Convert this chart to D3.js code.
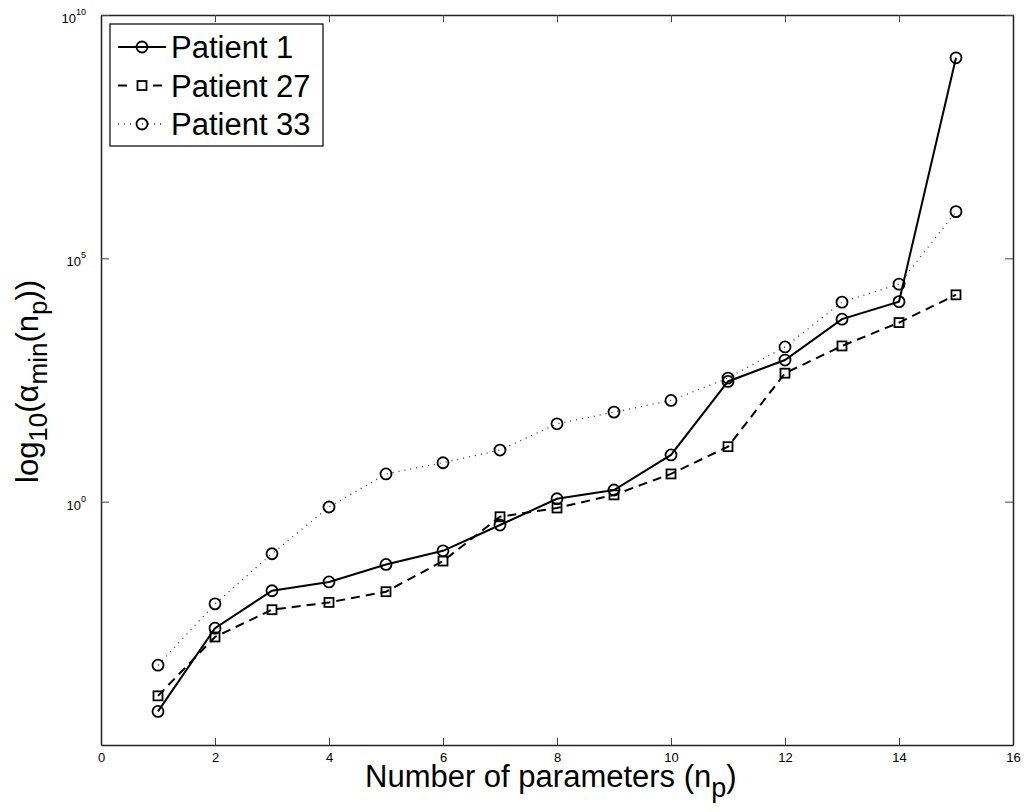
<!DOCTYPE html>
<html><head><meta charset="utf-8">
<script src="https://cdn.jsdelivr.net/npm/d3@7"></script>
<style>body{margin:0;background:#fff}svg{display:block}text{font-family:"Liberation Sans",Arial,sans-serif}</style>
</head><body><svg id="c" width="1026" height="812"></svg>
<script>
const xs = [1,2,3,4,5,6,7,8,9,10,11,12,13,14,15];
// log10 values
const patient1 = [-4.31,-2.60,-1.83,-1.65,-1.29,-1.01,-0.48,0.06,0.24,0.96,2.47,2.91,3.75,4.11,9.12];
const patient27 = [-3.99,-2.78,-2.22,-2.07,-1.85,-1.22,-0.31,-0.13,0.14,0.57,1.13,2.64,3.20,3.68,4.25];
const patient33 = [-3.36,-2.10,-1.07,-0.11,0.57,0.80,1.06,1.60,1.84,2.08,2.54,3.18,4.10,4.47,5.96];
const xTicks = [0,2,4,6,8,10,12,14,16];
const yTickExps = [0,5,10];
const seriesNames = ["Patient 1","Patient 27","Patient 33"];

const series = [
 {name:seriesNames[0], vals:patient1, dash:null, marker:"circle"},
 {name:seriesNames[1], vals:patient27, dash:"9,6", marker:"square"},
 {name:seriesNames[2], vals:patient33, dash:"1,5", marker:"circle"}
];

const L=101,R=1013,T=15,B=745;
const svg=d3.select("#c");
const x=d3.scaleLinear().domain([0,16]).range([L,R]);
const y=d3.scaleLog().domain([1e-5,1e10]).range([B,T]);

const g=svg.append("g");
function yAxisLabels(){
  yTickExps.forEach(e=>{
    const t=g.append("text").attr("x",L-15).attr("y",y(Math.pow(10,e))+8).attr("text-anchor","end").attr("font-size",13);
    t.append("tspan").text("10");
    t.append("tspan").attr("dy",-8).attr("font-size",9).text(e);
  });
}
const axB=d3.axisBottom(x).tickValues(xTicks).tickSizeInner(-7).tickSizeOuter(0).tickPadding(8);
const axT=d3.axisTop(x).tickValues(xTicks).tickSizeInner(-7).tickSizeOuter(0).tickFormat("");
const axL=d3.axisLeft(y).tickValues(yTickExps.map(e=>Math.pow(10,e))).tickSizeInner(-8).tickSizeOuter(0).tickFormat("");
const axR=d3.axisRight(y).tickValues(yTickExps.map(e=>Math.pow(10,e))).tickSizeInner(-8).tickSizeOuter(0).tickFormat("");
const gb=g.append("g").attr("transform",`translate(0,${B})`).call(axB);
const gt=g.append("g").attr("transform",`translate(0,${T})`).call(axT);
const gl=g.append("g").attr("transform",`translate(${L},0)`).call(axL);
const gr=g.append("g").attr("transform",`translate(${R},0)`).call(axR);
[gb,gt,gl,gr].forEach(a=>{a.selectAll("path").attr("stroke","#222").attr("stroke-width",1.5);a.selectAll("line").attr("stroke","#444").attr("stroke-width",1);a.selectAll("text").attr("font-size",13).attr("fill","#000").attr("font-family","Liberation Sans, Arial, sans-serif");});
yAxisLabels();

const line=d3.line().x((d,i)=>x(xs[i])).y(d=>y(Math.pow(10,d)));
series.forEach(s=>{
  svg.append("path").datum(s.vals).attr("d",line).attr("fill","none")
    .attr("stroke",s.dash==="1,5"?"#333":"#000").attr("stroke-width",s.dash==="1,5"?1.3:2)
    .attr("stroke-dasharray",s.dash);
  const mg=svg.append("g");
  s.vals.forEach((v,i)=>drawMarker(mg,s.marker,x(xs[i]),y(Math.pow(10,v))));
});
function drawMarker(p,m,cx,cy){
  if(m==="circle") p.append("circle").attr("cx",cx).attr("cy",cy).attr("r",5.5).attr("fill","none").attr("stroke","#000").attr("stroke-width",1.8);
  else p.append("rect").attr("x",cx-4.5).attr("y",cy-4.5).attr("width",9).attr("height",9).attr("fill","none").attr("stroke","#000").attr("stroke-width",1.8);
}

// legend
const lg=svg.append("g");
lg.append("rect").attr("x",110).attr("y",24).attr("width",213).attr("height",122).attr("fill","#fff").attr("stroke","#000").attr("stroke-width",1.2);
series.forEach((s,i)=>{
  const cy=47+i*38.5;
  lg.append("line").attr("x1",118).attr("x2",166).attr("y1",cy).attr("y2",cy).attr("stroke",s.dash==="1,5"?"#333":"#000")
    .attr("stroke-width",s.dash==="1,5"?1.3:2).attr("stroke-dasharray",s.dash==="9,6"?"9,26":s.dash);
  drawMarker(lg,s.marker,142,cy);
  lg.append("text").attr("x",171).attr("y",cy+11).attr("font-size",31).text(s.name);
});

// axis titles
const xt=svg.append("text").attr("x",365).attr("y",787).attr("font-size",31);
xt.append("tspan").text("Number of parameters (n");
xt.append("tspan").attr("dy",10).attr("font-size",27).text("p");
xt.append("tspan").attr("dy",-10).text(")");

const yt=svg.append("text").attr("transform","translate(38,483) rotate(-90)").attr("font-size",31);
yt.append("tspan").text("log");
yt.append("tspan").attr("dy",9).attr("font-size",26).text("10");
yt.append("tspan").attr("dy",-9).text("(α");
yt.append("tspan").attr("dy",9).attr("font-size",26).text("min");
yt.append("tspan").attr("dy",-9).text("(n");
yt.append("tspan").attr("dy",9).attr("font-size",26).text("p");
yt.append("tspan").attr("dy",-9).text("))");
</script></body></html>
